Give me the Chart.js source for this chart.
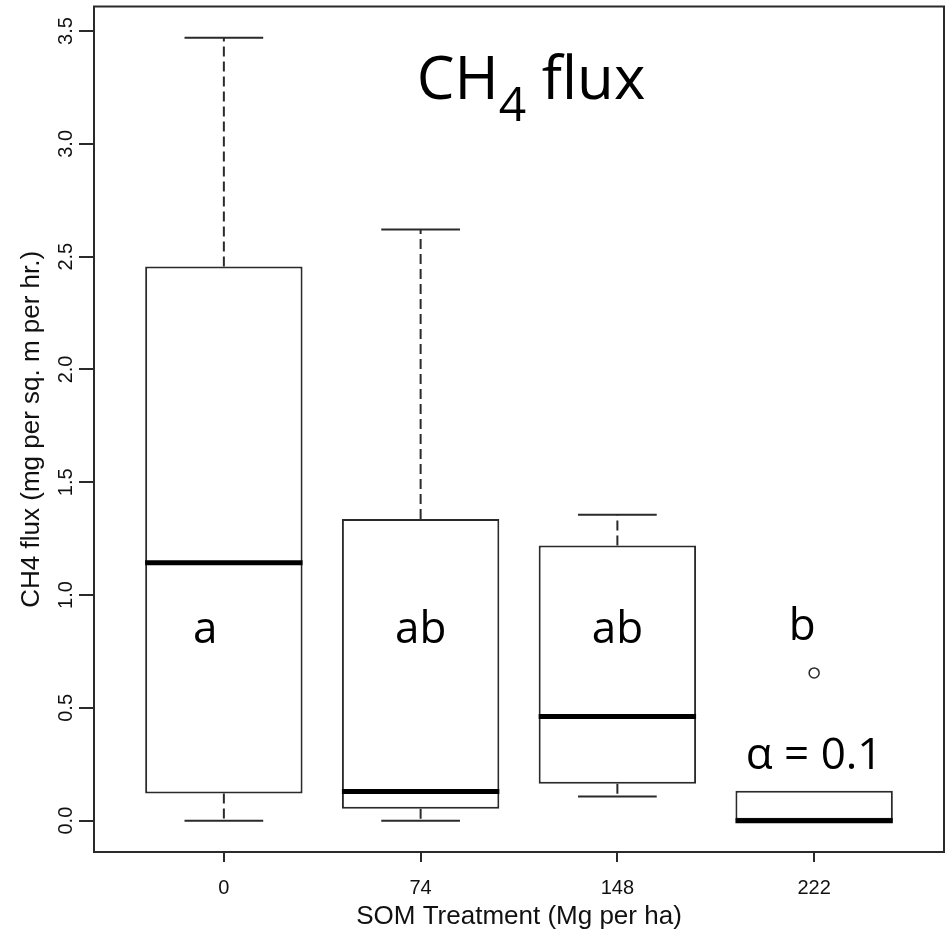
<!DOCTYPE html>
<html>
<head>
<meta charset="utf-8">
<script src="https://cdn.jsdelivr.net/npm/chart.js@4.4.1/dist/chart.umd.min.js"></script>
<style>
  html, body { margin: 0; padding: 0; background: #ffffff; }
  #wrap { width: 951px; height: 935px; position: relative; }
</style>
</head>
<body>
<div id="wrap"><canvas id="c" width="951" height="935"></canvas></div>
<script>
// SOM treatment groups (Mg per ha)
const categories = ['0', '74', '148', '222'];

// Five-number summaries of CH4 flux per treatment
const whiskerLow  = [0.000, 0.000, 0.107, 0.000];
const boxLow      = [0.120, 0.053, 0.164, 0.000];
const medians     = [1.143, 0.129, 0.462, 0.000];
const boxHigh     = [2.457, 1.337, 1.220, 0.133];
const whiskerHigh = [3.471, 2.621, 1.356, 0.000];

// Outlying observations
const outlierGroup = [4];
const outlierValue = [0.655];

// Axis ticks
const yTicks = [0, 0.5, 1, 1.5, 2, 2.5, 3, 3.5];
const yTickLabels = ['0.0', '0.5', '1.0', '1.5', '2.0', '2.5', '3.0', '3.5'];

// Significance letters per group
const groupLetters = ['a', 'ab', 'ab', 'b'];

const AXIS_FONT = '"Liberation Sans", Arial, sans-serif';
const NOTE_FONT = '"Open Sans", "Noto Sans", sans-serif';
const LINE = '#2a2a2a';

// Where the annotation texts sit, in data units (x = group position, y = flux)
const letterSpots = [
  { x: 0.905, y: 0.787 },
  { x: 2.00,  y: 0.787 },
  { x: 3.00,  y: 0.787 },
  { x: 3.94,  y: 0.800 }
];
const alphaSpot = { x: 4.0, y: 0.229 };
const titleSpot = { x: 1.98, y: 3.197 };

const boxes = categories.map((c, i) => ({ x: i + 1, y: [boxLow[i], boxHigh[i]] }));
const outlierPoints = outlierGroup.map((g, i) => ({ x: g, y: outlierValue[i] }));

const boxplotPlugin = {
  id: 'boxplotParts',
  afterDatasetsDraw(chart) {
    const { ctx, scales: { x, y } } = chart;
    const bars = chart.getDatasetMeta(0).data;
    ctx.save();
    bars.forEach((bar, i) => {
      const cx = x.getPixelForValue(i + 1);
      const capHalf = bar.width / 4;
      // whiskers (dashed), only where they extend beyond the box
      ctx.strokeStyle = LINE;
      ctx.lineWidth = 2;
      ctx.setLineDash([10, 5]);
      ctx.beginPath();
      if (whiskerHigh[i] > boxHigh[i]) {
        ctx.moveTo(cx, y.getPixelForValue(boxHigh[i]));
        ctx.lineTo(cx, y.getPixelForValue(whiskerHigh[i]));
      }
      if (whiskerLow[i] < boxLow[i]) {
        ctx.moveTo(cx, y.getPixelForValue(boxLow[i]));
        ctx.lineTo(cx, y.getPixelForValue(whiskerLow[i]));
      }
      ctx.stroke();
      // staples
      ctx.setLineDash([]);
      ctx.beginPath();
      ctx.moveTo(cx - capHalf, y.getPixelForValue(whiskerHigh[i]));
      ctx.lineTo(cx + capHalf, y.getPixelForValue(whiskerHigh[i]));
      ctx.moveTo(cx - capHalf, y.getPixelForValue(whiskerLow[i]));
      ctx.lineTo(cx + capHalf, y.getPixelForValue(whiskerLow[i]));
      ctx.stroke();
      // median
      ctx.strokeStyle = '#000000';
      ctx.lineWidth = 5;
      ctx.beginPath();
      ctx.moveTo(cx - bar.width / 2, y.getPixelForValue(medians[i]));
      ctx.lineTo(cx + bar.width / 2, y.getPixelForValue(medians[i]));
      ctx.stroke();
    });
    ctx.restore();
  },
  afterDraw(chart) {
    const { ctx, chartArea: a, scales: { x, y } } = chart;
    ctx.save();
    // plot frame
    ctx.strokeStyle = LINE;
    ctx.lineWidth = 2;
    ctx.strokeRect(a.left, a.top, a.right - a.left, a.bottom - a.top);

    // rotated y tick labels
    ctx.fillStyle = '#111111';
    ctx.font = '20px ' + AXIS_FONT;
    ctx.textAlign = 'center';
    ctx.textBaseline = 'middle';
    yTicks.forEach((v, i) => {
      ctx.save();
      ctx.translate(66, y.getPixelForValue(v));
      ctx.rotate(-Math.PI / 2);
      ctx.fillText(yTickLabels[i], 0, 0);
      ctx.restore();
    });

    // significance letters
    ctx.fillStyle = '#000000';
    ctx.font = '44px ' + NOTE_FONT;
    ctx.textAlign = 'center';
    ctx.textBaseline = 'alphabetic';
    groupLetters.forEach((t, i) => {
      ctx.fillText(t, x.getPixelForValue(letterSpots[i].x), y.getPixelForValue(letterSpots[i].y));
    });
    ctx.fillText('\u03B1 = 0.1', x.getPixelForValue(alphaSpot.x), y.getPixelForValue(alphaSpot.y));

    // panel title with subscript
    const tx = x.getPixelForValue(titleSpot.x);
    const ty = y.getPixelForValue(titleSpot.y);
    ctx.textAlign = 'left';
    ctx.font = '60px ' + NOTE_FONT;
    ctx.fillText('CH', tx, ty);
    let cursor = tx + ctx.measureText('CH').width;
    ctx.font = '48px ' + NOTE_FONT;
    ctx.fillText('4', cursor, ty + 22);
    cursor += ctx.measureText('4').width;
    ctx.font = '60px ' + NOTE_FONT;
    ctx.fillText(' flux', cursor, ty);
    ctx.restore();
  }
};

new Chart(document.getElementById('c'), {
  type: 'bar',
  data: {
    datasets: [
      {
        type: 'bar',
        data: boxes,
        backgroundColor: '#ffffff',
        borderColor: LINE,
        borderWidth: 2,
        borderSkipped: false,
        barPercentage: 1.0,
        categoryPercentage: 0.8
      },
      {
        type: 'scatter',
        data: outlierPoints,
        pointStyle: 'circle',
        pointRadius: 5,
        backgroundColor: '#ffffff',
        borderColor: LINE,
        borderWidth: 1.5
      }
    ]
  },
  plugins: [boxplotPlugin],
  options: {
    responsive: false,
    animation: false,
    events: [],
    layout: { padding: { top: 6, right: 7, left: 0, bottom: 0 } },
    plugins: { legend: { display: false }, tooltip: { enabled: false } },
    scales: {
      x: {
        type: 'linear',
        min: 0.34,
        max: 4.66,
        offset: false,
        grid: { offset: false, drawOnChartArea: false, drawTicks: true, tickLength: 10, color: LINE, lineWidth: 2 },
        border: { display: false },
        afterBuildTicks: (scale) => { scale.ticks = categories.map((c, i) => ({ value: i + 1 })); },
        afterFit: (scale) => { scale.height = 83; },
        ticks: {
          padding: 14,
          color: '#111111',
          font: { family: AXIS_FONT, size: 20 },
          maxRotation: 0,
          callback: (v) => categories[Math.round(v) - 1]
        },
        title: {
          display: true,
          text: 'SOM Treatment (Mg per ha)',
          color: '#111111',
          font: { family: AXIS_FONT, size: 26 },
          padding: { top: 0, bottom: 3 }
        }
      },
      y: {
        type: 'linear',
        min: -0.139,
        max: 3.609,
        bounds: 'data',
        grid: { drawOnChartArea: false, drawTicks: true, tickLength: 15, color: LINE, lineWidth: 2 },
        border: { display: false },
        afterBuildTicks: (scale) => { scale.ticks = yTicks.map(v => ({ value: v })); },
        afterFit: (scale) => { scale.width = 94; },
        ticks: { display: false },
        title: {
          display: true,
          text: 'CH4 flux (mg per sq. m per hr.)',
          color: '#111111',
          font: { family: AXIS_FONT, size: 26 },
          padding: { top: 16, bottom: 0 }
        }
      }
    }
  }
});
</script>
</body>
</html>
